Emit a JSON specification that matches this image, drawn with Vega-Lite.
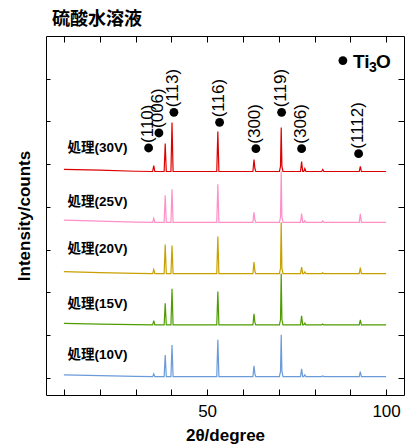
{
  "$schema": "https://vega.github.io/schema/vega-lite/v6.json",
  "width": 358,
  "height": 359,
  "autosize": "none",
  "padding": {"left": 46, "top": 36, "right": 3, "bottom": 50},
  "title": {"text": "硫酸水溶液", "anchor": "start", "frame": "group", "dx": 6, "offset": 7, "font": "Noto Sans CJK JP", "fontSize": 18, "fontWeight": "bold", "color": "#000"},
  "config": {"view": {"stroke": "#000", "strokeWidth": 1}, "font": "Liberation Sans"},
  "datasets": {
    "xrd": [
      {"s":"30V","x":10,"y":4880},{"s":"30V","x":20,"y":4860},{"s":"30V","x":30,"y":4835},{"s":"30V","x":34.8,"y":4830},{"s":"30V","x":35.1,"y":4970},{"s":"30V","x":35.4,"y":4830},{"s":"30V","x":38.0,"y":4830},{"s":"30V","x":38.3,"y":5486},{"s":"30V","x":38.6,"y":4830},{"s":"30V","x":39.9,"y":4830},{"s":"30V","x":40.2,"y":5978},{"s":"30V","x":40.5,"y":4830},{"s":"30V","x":52.7,"y":4830},{"s":"30V","x":53.0,"y":5767},{"s":"30V","x":53.3,"y":4830},{"s":"30V","x":62.8,"y":4830},{"s":"30V","x":63.1,"y":5111},{"s":"30V","x":63.35,"y":4900},{"s":"30V","x":63.6,"y":4830},{"s":"30V","x":70.2,"y":4830},{"s":"30V","x":70.5,"y":4950},{"s":"30V","x":70.7,"y":5860},{"s":"30V","x":70.9,"y":4950},{"s":"30V","x":71.2,"y":4830},{"s":"30V","x":76.1,"y":4830},{"s":"30V","x":76.4,"y":5064},{"s":"30V","x":76.7,"y":4830},{"s":"30V","x":77.0,"y":4830},{"s":"30V","x":77.3,"y":4900},{"s":"30V","x":77.6,"y":4830},{"s":"30V","x":82.0,"y":4830},{"s":"30V","x":82.3,"y":4877},{"s":"30V","x":82.6,"y":4830},{"s":"30V","x":92.5,"y":4830},{"s":"30V","x":92.8,"y":4947},{"s":"30V","x":93.1,"y":4830},{"s":"30V","x":100,"y":4830},

      {"s":"25V","x":10,"y":3690},{"s":"25V","x":20,"y":3670},{"s":"25V","x":30,"y":3645},{"s":"25V","x":34.8,"y":3640},{"s":"25V","x":35.1,"y":3734},{"s":"25V","x":35.4,"y":3640},{"s":"25V","x":38.0,"y":3640},{"s":"25V","x":38.3,"y":4272},{"s":"25V","x":38.6,"y":3640},{"s":"25V","x":39.9,"y":3640},{"s":"25V","x":40.2,"y":4413},{"s":"25V","x":40.5,"y":3640},{"s":"25V","x":52.7,"y":3640},{"s":"25V","x":53.0,"y":4530},{"s":"25V","x":53.3,"y":3640},{"s":"25V","x":62.8,"y":3640},{"s":"25V","x":63.1,"y":3874},{"s":"25V","x":63.35,"y":3700},{"s":"25V","x":63.6,"y":3640},{"s":"25V","x":70.2,"y":3640},{"s":"25V","x":70.5,"y":3760},{"s":"25V","x":70.7,"y":4834},{"s":"25V","x":70.9,"y":3760},{"s":"25V","x":71.2,"y":3640},{"s":"25V","x":76.1,"y":3640},{"s":"25V","x":76.4,"y":3844},{"s":"25V","x":76.7,"y":3640},{"s":"25V","x":77.0,"y":3640},{"s":"25V","x":77.3,"y":3680},{"s":"25V","x":77.6,"y":3640},{"s":"25V","x":82.0,"y":3640},{"s":"25V","x":82.3,"y":3675},{"s":"25V","x":82.6,"y":3640},{"s":"25V","x":92.5,"y":3640},{"s":"25V","x":92.8,"y":3837},{"s":"25V","x":93.1,"y":3640},{"s":"25V","x":100,"y":3640},

      {"s":"20V","x":10,"y":2485},{"s":"20V","x":20,"y":2465},{"s":"20V","x":30,"y":2445},{"s":"20V","x":34.8,"y":2440},{"s":"20V","x":35.1,"y":2534},{"s":"20V","x":35.4,"y":2440},{"s":"20V","x":38.0,"y":2440},{"s":"20V","x":38.3,"y":3119},{"s":"20V","x":38.6,"y":2440},{"s":"20V","x":39.9,"y":2440},{"s":"20V","x":40.2,"y":3096},{"s":"20V","x":40.5,"y":2440},{"s":"20V","x":52.7,"y":2440},{"s":"20V","x":53.0,"y":3307},{"s":"20V","x":53.3,"y":2440},{"s":"20V","x":62.8,"y":2440},{"s":"20V","x":63.1,"y":2712},{"s":"20V","x":63.35,"y":2500},{"s":"20V","x":63.6,"y":2440},{"s":"20V","x":70.2,"y":2440},{"s":"20V","x":70.5,"y":2560},{"s":"20V","x":70.7,"y":3640},{"s":"20V","x":70.9,"y":2560},{"s":"20V","x":71.2,"y":2440},{"s":"20V","x":76.1,"y":2440},{"s":"20V","x":76.4,"y":2595},{"s":"20V","x":76.7,"y":2440},{"s":"20V","x":77.0,"y":2440},{"s":"20V","x":77.3,"y":2480},{"s":"20V","x":77.6,"y":2440},{"s":"20V","x":82.0,"y":2440},{"s":"20V","x":82.3,"y":2460},{"s":"20V","x":82.6,"y":2440},{"s":"20V","x":92.5,"y":2440},{"s":"20V","x":92.8,"y":2581},{"s":"20V","x":93.1,"y":2440},{"s":"20V","x":100,"y":2440},

      {"s":"15V","x":10,"y":1275},{"s":"15V","x":20,"y":1260},{"s":"15V","x":30,"y":1245},{"s":"15V","x":34.8,"y":1240},{"s":"15V","x":35.1,"y":1340},{"s":"15V","x":35.4,"y":1240},{"s":"15V","x":38.0,"y":1240},{"s":"15V","x":38.3,"y":1748},{"s":"15V","x":38.6,"y":1240},{"s":"15V","x":39.9,"y":1240},{"s":"15V","x":40.2,"y":2083},{"s":"15V","x":40.5,"y":1240},{"s":"15V","x":52.7,"y":1240},{"s":"15V","x":53.0,"y":2020},{"s":"15V","x":53.3,"y":1240},{"s":"15V","x":62.8,"y":1240},{"s":"15V","x":63.1,"y":1498},{"s":"15V","x":63.35,"y":1300},{"s":"15V","x":63.6,"y":1240},{"s":"15V","x":70.2,"y":1240},{"s":"15V","x":70.5,"y":1360},{"s":"15V","x":70.7,"y":2440},{"s":"15V","x":70.9,"y":1360},{"s":"15V","x":71.2,"y":1240},{"s":"15V","x":76.1,"y":1240},{"s":"15V","x":76.4,"y":1451},{"s":"15V","x":76.7,"y":1240},{"s":"15V","x":77.0,"y":1240},{"s":"15V","x":77.3,"y":1280},{"s":"15V","x":77.6,"y":1240},{"s":"15V","x":82.0,"y":1240},{"s":"15V","x":82.3,"y":1260},{"s":"15V","x":82.6,"y":1240},{"s":"15V","x":92.5,"y":1240},{"s":"15V","x":92.8,"y":1357},{"s":"15V","x":93.1,"y":1240},{"s":"15V","x":100,"y":1240},

      {"s":"10V","x":10,"y":70},{"s":"10V","x":20,"y":55},{"s":"10V","x":30,"y":35},{"s":"10V","x":34.8,"y":30},{"s":"10V","x":35.1,"y":93},{"s":"10V","x":35.4,"y":30},{"s":"10V","x":38.0,"y":30},{"s":"10V","x":38.3,"y":538},{"s":"10V","x":38.6,"y":30},{"s":"10V","x":39.9,"y":30},{"s":"10V","x":40.2,"y":772},{"s":"10V","x":40.5,"y":30},{"s":"10V","x":52.7,"y":30},{"s":"10V","x":53.0,"y":890},{"s":"10V","x":53.3,"y":30},{"s":"10V","x":62.8,"y":30},{"s":"10V","x":63.1,"y":281},{"s":"10V","x":63.35,"y":90},{"s":"10V","x":63.6,"y":30},{"s":"10V","x":70.2,"y":30},{"s":"10V","x":70.5,"y":150},{"s":"10V","x":70.7,"y":1007},{"s":"10V","x":70.9,"y":150},{"s":"10V","x":71.2,"y":30},{"s":"10V","x":76.1,"y":30},{"s":"10V","x":76.4,"y":210},{"s":"10V","x":76.7,"y":30},{"s":"10V","x":77.0,"y":30},{"s":"10V","x":77.3,"y":70},{"s":"10V","x":77.6,"y":30},{"s":"10V","x":82.0,"y":30},{"s":"10V","x":82.3,"y":45},{"s":"10V","x":82.6,"y":30},{"s":"10V","x":92.5,"y":30},{"s":"10V","x":92.8,"y":147},{"s":"10V","x":93.1,"y":30},{"s":"10V","x":100,"y":30}
    ],
    "peaks": [
      {"x":33.66,"y":5380,"h":"(110)"},{"x":36.54,"y":5731,"h":"(006)"},{"x":40.73,"y":6213,"h":"(113)"},{"x":53.49,"y":5979,"h":"(116)"},{"x":63.63,"y":5363,"h":"(300)"},{"x":70.81,"y":6213,"h":"(119)"},{"x":76.4,"y":5363,"h":"(306)"},{"x":92.32,"y":5246,"h":"(1112)"}
    ],
    "names": [
      {"x":11,"y":5387,"t":"処理(30V)"},{"x":11,"y":4122,"t":"処理(25V)"},{"x":11,"y":3021,"t":"処理(20V)"},{"x":11,"y":1730,"t":"処理(15V)"},{"x":11,"y":539,"t":"処理(10V)"}
    ],
    "legend": [{"x":87.93,"y":7424}]
  },
  "layer": [
    {
      "data": {"name": "xrd"},
      "mark": {"type": "line", "strokeWidth": 1.2},
      "encoding": {
        "x": {"field": "x", "type": "quantitative", "scale": {"domain": [5, 105], "nice": false, "zero": false},
          "axis": {"orient": "bottom", "values": [10,20,30,40,50,60,70,80,90,100], "labelExpr": "datum.value % 50 === 0 ? datum.label : ''", "tickSize": -6, "tickColor": "#000", "labelPadding": 14, "labelFontSize": 17, "labelColor": "#000", "labelFont": "Liberation Sans", "domain": false, "grid": false, "title": "2θ/degree", "titleFontSize": 17, "titleFontWeight": "bold", "titleColor": "#000", "titlePadding": 8}},
        "y": {"field": "y", "type": "quantitative", "scale": {"domain": [-400, 8000], "nice": false, "zero": false},
          "axis": {"orient": "left", "values": [0,1000,2000,3000,4000,5000,6000,7000], "labels": false, "tickSize": -4, "tickColor": "#000", "domain": false, "grid": false, "title": "Intensity/counts", "titleFontSize": 17, "titleFontWeight": "bold", "titleColor": "#000", "titlePadding": 12}},
        "color": {"field": "s", "type": "nominal", "scale": {"domain": ["10V","15V","20V","25V","30V"], "range": ["#6a9bd8","#4e9c00","#c8a000","#ff8fc8","#dd0000"]}, "legend": null}
      }
    },
    {
      "data": {"name": "peaks"},
      "mark": {"type": "point", "filled": true, "shape": "circle", "size": 78, "color": "#000", "opacity": 1},
      "encoding": {
        "x": {"field": "x", "type": "quantitative", "axis": {"orient": "top", "values": [10,20,30,40,50,60,70,80,90,100], "labels": false, "tickSize": -6, "tickColor": "#000", "domain": false, "grid": false, "title": null}},
        "y": {"field": "y", "type": "quantitative", "axis": {"orient": "right", "values": [0,1000,2000,3000,4000,5000,6000,7000], "labels": false, "tickSize": -6, "tickColor": "#000", "domain": false, "grid": false, "title": null}}
      }
    },
    {
      "data": {"name": "peaks"},
      "mark": {"type": "text", "angle": 270, "align": "left", "baseline": "middle", "dx": 5, "dy": -1, "fontSize": 17, "font": "Liberation Sans", "color": "#000"},
      "encoding": {
        "x": {"field": "x", "type": "quantitative", "axis": null},
        "y": {"field": "y", "type": "quantitative", "axis": null},
        "text": {"field": "h"}
      }
    },
    {
      "data": {"name": "names"},
      "mark": {"type": "text", "align": "left", "baseline": "middle", "fontSize": 13.5, "fontWeight": "bold", "font": "Liberation Sans, Noto Sans CJK JP", "color": "#000"},
      "encoding": {
        "x": {"field": "x", "type": "quantitative", "axis": null},
        "y": {"field": "y", "type": "quantitative", "axis": null},
        "text": {"field": "t"}
      }
    },
    {
      "data": {"name": "legend"},
      "mark": {"type": "point", "filled": true, "shape": "circle", "size": 78, "color": "#000", "opacity": 1},
      "encoding": {
        "x": {"field": "x", "type": "quantitative", "axis": null},
        "y": {"field": "y", "type": "quantitative", "axis": null}
      }
    },
    {
      "data": {"name": "legend"},
      "mark": {"type": "text", "text": "Ti", "align": "left", "baseline": "alphabetic", "dx": 10, "dy": 7, "fontSize": 19, "fontWeight": "bold", "font": "Liberation Sans", "color": "#000"},
      "encoding": {
        "x": {"field": "x", "type": "quantitative", "axis": null},
        "y": {"field": "y", "type": "quantitative", "axis": null}
      }
    },
    {
      "data": {"name": "legend"},
      "mark": {"type": "text", "text": "3", "align": "left", "baseline": "alphabetic", "dx": 26, "dy": 11, "fontSize": 14, "fontWeight": "bold", "font": "Liberation Sans", "color": "#000"},
      "encoding": {
        "x": {"field": "x", "type": "quantitative", "axis": null},
        "y": {"field": "y", "type": "quantitative", "axis": null}
      }
    },
    {
      "data": {"name": "legend"},
      "mark": {"type": "text", "text": "O", "align": "left", "baseline": "alphabetic", "dx": 33, "dy": 7, "fontSize": 19, "fontWeight": "bold", "font": "Liberation Sans", "color": "#000"},
      "encoding": {
        "x": {"field": "x", "type": "quantitative", "axis": null},
        "y": {"field": "y", "type": "quantitative", "axis": null}
      }
    }
  ],
  "resolve": {"axis": {"x": "independent", "y": "independent"}}
}
